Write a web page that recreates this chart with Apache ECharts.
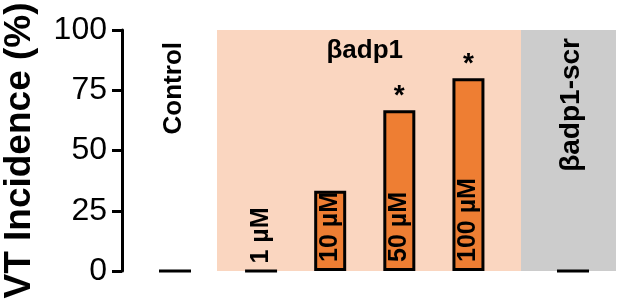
<!DOCTYPE html>
<html><head><meta charset="utf-8">
<script src="https://cdn.jsdelivr.net/npm/echarts@6/dist/echarts.min.js"></script>
<style>html,body{margin:0;padding:0;background:#fff}#c{width:617px;height:301px}</style>
</head><body><div id="c"></div>
<script>
// ---- data ----
const groupNames = ['Control', 'βadp1', 'βadp1-scr'];
const controlCats = [''];
const doseCats = ['1 µM', '10 µM', '50 µM', '100 µM'];
const scrCats = [''];
const controlValues = [0];
const doseValues = [0, 33.3, 66.7, 80];
const scrValues = [0];
const doseSignificant = [false, false, true, true];
const yMin = 0, yMax = 100, yStep = 25;
const yTitle = 'VT Incidence (%)';

// ---- styles ----
const ORANGE = '#EE7E33';
const PEACH = '#FAD6C0';
const GRAY = '#CCCCCC';
const FONT = '"Liberation Sans", Arial, sans-serif';

const chart = echarts.init(document.getElementById('c'), null, {renderer: 'canvas'});

const hiddenX = (i, data) => ({
  type: 'category', gridIndex: i, data: data,
  axisLine: {show: false}, axisTick: {show: false}, axisLabel: {show: false}, splitLine: {show: false}
});
const hiddenY = (i) => ({
  type: 'value', gridIndex: i, min: yMin, max: yMax, interval: yStep, show: false, splitLine: {show: false}
});
const barStyle = {color: ORANGE, borderColor: '#000', borderWidth: 3};

chart.setOption({
  animation: false,
  textStyle: {fontFamily: FONT},
  grid: [
    {left: 120, width: 108, top: 30, bottom: 30},
    {left: 226.5, width: 276.5, top: 30, bottom: 30},
    {left: 538.5, width: 69, top: 30, bottom: 30}
  ],
  xAxis: [hiddenX(0, controlCats), hiddenX(1, doseCats), hiddenX(2, scrCats)],
  yAxis: [
    {
      type: 'value', gridIndex: 0, min: yMin, max: yMax, interval: yStep,
      axisLine: {show: true, lineStyle: {color: '#000', width: 3}},
      axisTick: {show: true, length: 10, lineStyle: {color: '#000', width: 3}},
      axisLabel: {color: '#000', fontSize: 32, margin: 15, fontFamily: FONT},
      splitLine: {show: false},
      name: yTitle, nameLocation: 'middle', nameRotate: 90, nameGap: 84,
      nameTextStyle: {color: '#000', fontSize: 37, fontWeight: 'bold', fontFamily: FONT}
    },
    hiddenY(1), hiddenY(2)
  ],
  series: [
    {type: 'bar', xAxisIndex: 0, yAxisIndex: 0, data: controlValues, barWidth: 32, itemStyle: barStyle, z: 3},
    {
      type: 'bar', xAxisIndex: 1, yAxisIndex: 1, data: doseValues, barWidth: 32, itemStyle: barStyle, z: 3,
      label: {
        show: true, position: 'insideBottom', rotate: 90, align: 'left', verticalAlign: 'middle', distance: 9,
        formatter: p => p.name, color: '#000', fontSize: 25, fontWeight: 'bold', fontFamily: FONT
      }
    },
    {
      type: 'bar', xAxisIndex: 1, yAxisIndex: 1, data: doseValues, barWidth: 32, barGap: '-100%', silent: true, z: 4,
      itemStyle: {color: 'rgba(0,0,0,0)', borderWidth: 0},
      label: {
        show: true, position: 'top', distance: 0,
        formatter: p => doseSignificant[p.dataIndex] ? '*' : '',
        color: '#000', fontSize: 28, fontWeight: 'bold', fontFamily: FONT
      }
    },
    {type: 'bar', xAxisIndex: 2, yAxisIndex: 2, data: scrValues, barWidth: 32, itemStyle: barStyle, z: 3}
  ]
});

// background panels and group labels
const panelTop = chart.convertToPixel({yAxisIndex: 0}, yMax);
const panelBot = chart.convertToPixel({yAxisIndex: 0}, yMin);
const cx0 = chart.convertToPixel({xAxisIndex: 0}, 0);
const cx1 = (chart.convertToPixel({xAxisIndex: 1}, 0) + chart.convertToPixel({xAxisIndex: 1}, doseCats.length - 1)) / 2;
const cx2 = chart.convertToPixel({xAxisIndex: 2}, 0);

chart.setOption({
  graphic: [
    {type: 'rect', z: 0, silent: true, shape: {x: 217, y: panelTop, width: 304, height: panelBot - panelTop}, style: {fill: PEACH}},
    {type: 'rect', z: 0, silent: true, shape: {x: 521, y: panelTop, width: 95, height: panelBot - panelTop}, style: {fill: GRAY}},
    {type: 'text', z: 10, x: cx0 - 1, y: 42, rotation: Math.PI / 2,
      style: {text: groupNames[0], fill: '#000', font: 'bold 26px ' + FONT, textAlign: 'right', textVerticalAlign: 'middle'}},
    {type: 'text', z: 10, x: cx1, y: 38,
      style: {text: groupNames[1], fill: '#000', font: 'bold 26px ' + FONT, textAlign: 'center', textVerticalAlign: 'top'}},
    {type: 'text', z: 10, x: cx2 - 2, y: 38, rotation: Math.PI / 2,
      style: {text: groupNames[2], fill: '#000', font: 'bold 28px ' + FONT, textAlign: 'right', textVerticalAlign: 'middle'}}
  ]
});
</script>
</body></html>
